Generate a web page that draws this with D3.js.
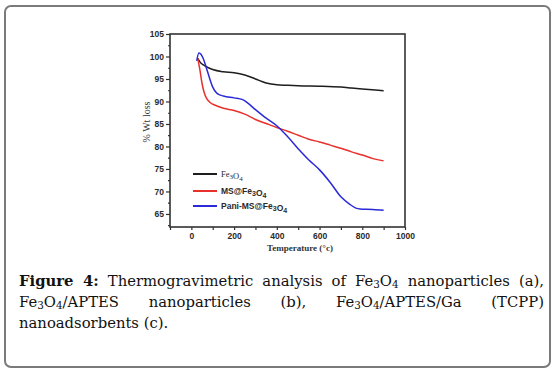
<!DOCTYPE html>
<html>
<head>
<meta charset="utf-8">
<script src="https://cdn.jsdelivr.net/npm/d3@7"></script>
<style>
  body { margin: 0; background: #fff; }
  #wrap { position: relative; width: 557px; height: 375px; }
  svg { position: absolute; left: 0; top: 0; }
  .cap { position: absolute; left: 19px; width: 525px; font-family: "DejaVu Serif", serif;
         font-size: 14.8px; line-height: 21px; color: #111; white-space: nowrap; }
  .just { text-align: justify; text-align-last: justify; white-space: normal; }
  .cap sub { font-size: 0.7em; vertical-align: -0.2em; line-height: 0; }
</style>
</head>
<body>
<div id="wrap">
  <svg id="chart" width="557" height="375"></svg>
  <div class="cap just" style="top:269.5px"><b>Figure 4:</b> Thermogravimetric analysis of Fe<sub>3</sub>O<sub>4</sub> nanoparticles (a),</div>
  <div class="cap just" style="top:290.5px">Fe<sub>3</sub>O<sub>4</sub>/APTES nanoparticles (b), Fe<sub>3</sub>O<sub>4</sub>/APTES/Ga (TCPP)</div>
  <div class="cap" style="top:311.5px">nanoadsorbents (c).</div>
</div>
<script>
// 온도 (°C) 와 무게 (%)
const fe3o4Temp = [30, 40, 60, 80, 100, 150, 200, 250, 300, 350, 400, 450, 500, 600, 700, 750, 800, 900];
const fe3o4Wt   = [99.6, 98.8, 98.0, 97.5, 97.1, 96.6, 96.4, 95.9, 95.0, 94.1, 93.7, 93.6, 93.5, 93.4, 93.2, 93.0, 92.8, 92.4];

const msTemp = [30, 40, 50, 60, 70, 85, 100, 120, 150, 200, 250, 300, 350, 400, 450, 500, 550, 600, 650, 700, 750, 800, 850, 900];
const msWt   = [99.6, 97.0, 94.0, 92.0, 90.8, 89.9, 89.4, 89.0, 88.5, 88.0, 87.2, 86.0, 85.1, 84.2, 83.4, 82.5, 81.6, 81.0, 80.3, 79.6, 78.8, 78.1, 77.3, 76.8];

const paniTemp = [25, 35, 45, 55, 70, 85, 100, 120, 150, 200, 240, 260, 300, 350, 400, 450, 500, 550, 600, 650, 700, 740, 770, 790, 850, 900];
const paniWt   = [99.0, 100.8, 100.5, 99.6, 97.5, 95.2, 93.2, 91.8, 91.2, 90.8, 90.4, 89.8, 88.2, 86.3, 84.6, 82.2, 79.5, 77.0, 74.8, 72.0, 68.8, 67.2, 66.3, 66.1, 66.0, 65.8];

const xTicks = [0, 200, 400, 600, 800, 1000];
const yTicks = [65, 70, 75, 80, 85, 90, 95, 100, 105];
const seriesNames = ["Fe3O4", "MS@Fe3O4", "Pani-MS@Fe3O4"];
const seriesColors = ["#1e1e1e", "#e8302c", "#2a2ad8"];

const svg = d3.select("#chart");

// 바깥 테두리
svg.append("rect")
  .attr("x", 5).attr("y", 6).attr("width", 545).attr("height", 361)
  .attr("rx", 6).attr("fill", "none").attr("stroke", "#7a7a7a").attr("stroke-width", 2);

const plotL = 170, plotR = 405, plotT = 34, plotB = 227;

const x = d3.scaleLinear().domain([-100, 1000]).range([plotL, plotR]);
const y = d3.scaleLinear().domain([62.1, 105]).range([plotB, plotT]);

const g = svg.append("g");

// 축
const yAxis = g.append("g")
  .attr("transform", `translate(${plotL},0)`)
  .call(d3.axisLeft(y).tickValues(yTicks).tickSize(4).tickPadding(2));
const yMinor = g.append("g")
  .attr("transform", `translate(${plotL},0)`)
  .call(d3.axisLeft(y).tickValues(d3.range(62.5, 105, 5)).tickSize(2).tickFormat(""));

const xAxis = g.append("g")
  .attr("transform", `translate(0,${plotB})`)
  .call(d3.axisBottom(x).tickValues(xTicks).tickSize(3).tickPadding(3).tickFormat(d3.format("d")));
const xMinor = g.append("g")
  .attr("transform", `translate(0,${plotB})`)
  .call(d3.axisBottom(x).tickValues([-100, 100, 300, 500, 700, 900]).tickSize(3).tickFormat(""));

[yAxis, yMinor, xAxis, xMinor].forEach(a => {
  a.select(".domain").remove();
  a.selectAll("line").attr("stroke", "#333").attr("stroke-width", 1.2);
});
[yAxis, xAxis].forEach(a => {
  a.selectAll("text")
    .attr("font-family", "Liberation Sans, Arial, sans-serif")
    .attr("font-weight", "bold")
    .attr("font-size", 8.5)
    .attr("fill", "#2a2a2a");
});

// 프레임
g.append("rect")
  .attr("x", plotL).attr("y", plotT).attr("width", plotR - plotL).attr("height", plotB - plotT)
  .attr("fill", "none").attr("stroke", "#333").attr("stroke-width", 1.6);

// 축 제목
svg.append("text")
  .attr("transform", "translate(150,122) rotate(-90)")
  .attr("text-anchor", "middle")
  .attr("font-family", "Liberation Serif, serif")
  .attr("font-size", 10)
  .attr("fill", "#333")
  .text("% Wt loss");

svg.append("text")
  .attr("x", 300).attr("y", 251)
  .attr("text-anchor", "middle")
  .attr("font-family", "Liberation Serif, serif")
  .attr("font-weight", "bold")
  .attr("font-size", 9)
  .attr("fill", "#333")
  .text("Temperature (°c)");

// 선
const line = d3.line().x(d => x(d[0])).y(d => y(d[1])).curve(d3.curveMonotoneX);
const series = [
  d3.zip(fe3o4Temp, fe3o4Wt),
  d3.zip(msTemp, msWt),
  d3.zip(paniTemp, paniWt)
];
series.forEach((s, i) => {
  g.append("path")
    .datum(s)
    .attr("fill", "none")
    .attr("stroke", seriesColors[i])
    .attr("stroke-width", 1.5)
    .attr("d", line);
});

// 범례
const legY = [174, 191, 206];
seriesNames.forEach((name, i) => {
  const lg = svg.append("g").attr("transform", `translate(193,${legY[i]})`);
  lg.append("line").attr("x1", 0).attr("x2", 24)
    .attr("stroke", seriesColors[i]).attr("stroke-width", 2);
  const t = lg.append("text").attr("x", 28).attr("y", 3)
    .attr("font-family", i === 0 ? "Liberation Serif, serif" : "Liberation Sans, Arial, sans-serif")
    .attr("font-weight", i === 0 ? "normal" : "bold")
    .attr("font-size", 8.5)
    .attr("fill", "#2a2a2a");
  // 아래첨자 처리
  name.split(/(\d)/).forEach(part => {
    if (!part) return;
    if (/\d/.test(part)) {
      t.append("tspan").attr("font-size", 7).attr("dy", 2).text(part);
      t.append("tspan").attr("dy", -2).text("");
    } else {
      t.append("tspan").text(part);
    }
  });
});
</script>
</body>
</html>
